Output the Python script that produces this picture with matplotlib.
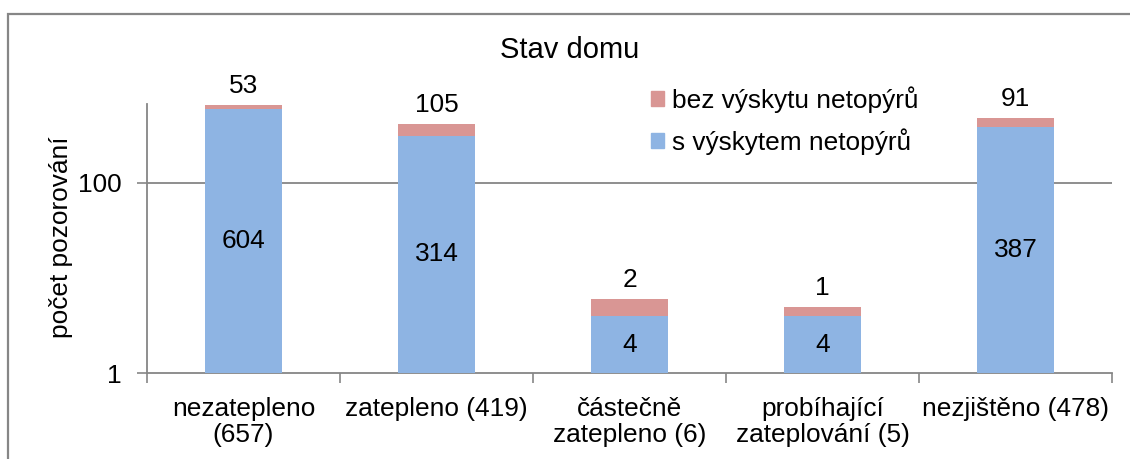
import matplotlib
matplotlib.use("Agg")
import matplotlib.pyplot as plt
from matplotlib.patches import Rectangle, Patch
import numpy as np

categories = ["nezatepleno\n(657)", "zatepleno (419)", "částečně\nzatepleno (6)",
              "probíhající\nzateplování (5)", "nezjištěno (478)"]
s_vyskytem = [604, 314, 4, 4, 387]
bez_vyskytu = [53, 105, 2, 1, 91]
series_names = ["s výskytem netopýrů", "bez výskytu netopýrů"]
title = "Stav domu"
ylabel = "počet pozorování"
yticks = [1, 100]

BLUE = "#8EB4E3"
PINK = "#D99694"
GRAY = "#868686"
FS = 18.9

plt.rcParams['font.family'] = ['Liberation Sans', 'DejaVu Sans']

W, H = 1130, 459
fig = plt.figure(figsize=(W / 100, H / 100), dpi=100)
ax = fig.add_axes([147 / W, 1 - 373.3 / H, (1112 - 147) / W, (373.3 - 104) / H])

x = np.arange(len(categories))
bw = 0.4
ax.bar(x, s_vyskytem, bw, color=BLUE, label=series_names[0], zorder=3)
ax.bar(x, bez_vyskytu, bw, bottom=s_vyskytem, color=PINK, label=series_names[1], zorder=3)

ax.set_yscale('log')
ax.set_ylim(1, 676)
ax.set_xlim(-0.5, len(categories) - 0.5)

ax.set_yticks(yticks)
ax.set_yticklabels([str(v) for v in yticks])
ax.yaxis.set_minor_locator(matplotlib.ticker.NullLocator())
ax.tick_params(axis='y', which='major', length=7, width=1.2, color=GRAY, labelsize=FS, pad=11)
for v in yticks[1:]:
    ax.axhline(v, color=GRAY, lw=1.3, zorder=1)

ax.set_xticks(x)
ax.set_xticklabels(categories)
ax.tick_params(axis='x', which='major', length=0, labelsize=FS, pad=17)
ax.set_xticks(np.arange(len(categories) + 1) - 0.5, minor=True)
ax.tick_params(axis='x', which='minor', length=7, width=1.2, color=GRAY)
for lab in ax.get_xticklabels():
    lab.set_linespacing(1.12)

for s in ['top', 'right']:
    ax.spines[s].set_visible(False)
for s in ['left', 'bottom']:
    ax.spines[s].set_color(GRAY)
    ax.spines[s].set_linewidth(1.3)

# data labels
for xi, v in zip(x, s_vyskytem):
    ax.text(xi, np.sqrt(v), str(v), ha='center', va='center', fontsize=FS, zorder=4)
for xi, v, b in zip(x, bez_vyskytu, s_vyskytem):
    ax.annotate(str(v), (xi, v + b), xytext=(0, 5), textcoords='offset points',
                ha='center', va='bottom', fontsize=FS, zorder=4)

fig.text(570 / W, 1 - 50 / H, title, ha='center', va='center', fontsize=21)
fig.text(61 / W, 1 - 237 / H, ylabel, ha='center', va='center', rotation=90, fontsize=FS)

handles = [Patch(color=PINK), Patch(color=BLUE)]
fig.legend(handles, [series_names[1], series_names[0]], loc='upper left',
           bbox_to_anchor=(651 / W, 1 - 86 / H), frameon=False, fontsize=FS,
           handlelength=0.5, handleheight=0.5, handletextpad=0.3,
           labelspacing=0.6, borderpad=0, borderaxespad=0)

fig.patches.append(Rectangle((7.5 / W, -0.1), 1.2, (H - 14) / H + 0.1, transform=fig.transFigure,
                             fill=False, edgecolor=GRAY, lw=1.6))

fig.savefig("out.png", dpi=100)
